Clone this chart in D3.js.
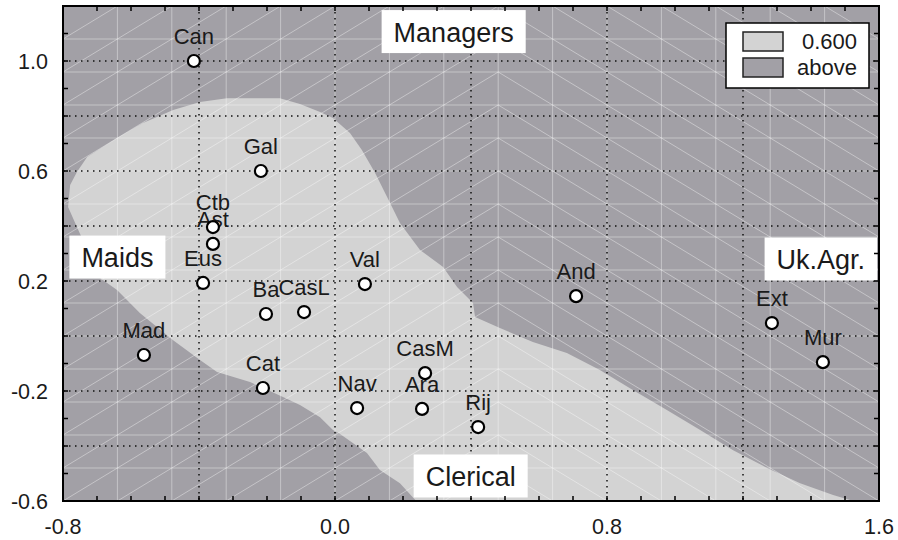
<!DOCTYPE html>
<html><head><meta charset="utf-8">
<script src="https://cdn.jsdelivr.net/npm/d3@7"></script>
<style>body{margin:0;background:#fff}text{font-family:"Liberation Sans",Arial,sans-serif}</style>
</head><body><svg id="c" width="898" height="540"></svg>
<script>
// ---- data ----
const regions = ["Can","Gal","Ctb","Ast","Eus","Ba","CasL","Val","And","Ext","Mur","Mad","Cat","CasM","Nav","Ara","Rij"];
const dim1 = [-0.415,-0.218,-0.359,-0.359,-0.388,-0.203,-0.091,0.088,0.709,1.285,1.435,-0.562,-0.212,0.265,0.065,0.256,0.421];
const dim2 = [1.0,0.6,0.396,0.335,0.193,0.080,0.087,0.189,0.145,0.047,-0.095,-0.069,-0.189,-0.135,-0.262,-0.265,-0.331];

// boundary of the 0.600 contour region (data units)
const contourX = [-0.759,-0.729,-0.641,-0.565,-0.476,-0.397,-0.318,-0.162,-0.103,-0.044,-0.006,0.044,0.079,0.118,0.162,0.191,0.250,0.318,0.359,0.406,0.412,0.485,0.582,0.682,0.779,0.876,0.976,1.074,1.171,1.271,1.368,1.465,1.535,0.244,0.191,0.132,0.094,0.015,-0.006,-0.044,-0.103,-0.153,-0.250,-0.347,-0.397,-0.476,-0.574,-0.641,-0.691,-0.759,-0.785,-0.779];
const contourY = [0.596,0.651,0.720,0.775,0.822,0.851,0.865,0.865,0.844,0.815,0.793,0.738,0.676,0.593,0.484,0.411,0.313,0.251,0.178,0.120,0.069,0.029,-0.022,-0.062,-0.124,-0.196,-0.269,-0.342,-0.415,-0.480,-0.535,-0.578,-0.604,-0.607,-0.535,-0.487,-0.425,-0.356,-0.342,-0.295,-0.251,-0.222,-0.167,-0.131,-0.087,-0.015,0.084,0.167,0.211,0.396,0.469,0.549];

const annoText = ["Managers","Maids","Uk.Agr.","Clerical"];
const annoX = [0.349,-0.640,1.429,0.399];
const annoY = [1.107,0.287,0.280,-0.509];

const xTickLabels = ["-0.8","0.0","0.8","1.6"];
const yTickLabels = ["1.0","0.6","0.2","-0.2","-0.6"];
const xGrid = [-0.4,0.0,0.4,0.8,1.2];
const yGrid = [-0.4,-0.2,0.0,0.2,0.4,0.6,0.8,1.0];
const legendLabels = ["0.600","above"];

// ---- styles ----
const DARK = "#a2a0a6", LIGHT = "#d3d3d3";
const legendColors = [LIGHT, DARK];

const svg = d3.select("#c");
const L = 63, R = 879, T = 6, B = 501;
const x = d3.scaleLinear().domain([-0.8,1.6]).range([L,R]);
const y = d3.scaleLinear().domain([-0.6,1.2]).range([B,T]);

svg.append("defs").append("clipPath").attr("id","clip")
  .append("rect").attr("x",L).attr("y",T).attr("width",R-L).attr("height",B-T);

const plot = svg.append("g").attr("clip-path","url(#clip)");
plot.append("rect").attr("x",L).attr("y",T).attr("width",R-L).attr("height",B-T).attr("fill",DARK);

const poly = contourX.map((v,i)=>[x(v), y(contourY[i])]);
plot.append("path").attr("d", d3.line()(poly)+"Z").attr("fill",LIGHT);

// surface wireframe mesh (15 x 15)
const nx = 15, ny = 15, dx = 2.4/nx, dy = 1.8/ny;
const mesh = plot.append("g").attr("stroke","#fff").attr("stroke-opacity",0.38).attr("stroke-width",1).attr("fill","none");
for (let i=1;i<nx;i++) mesh.append("line").attr("x1",x(-0.8+i*dx)).attr("x2",x(-0.8+i*dx)).attr("y1",T).attr("y2",B);
for (let j=1;j<ny;j++) mesh.append("line").attr("y1",y(-0.6+j*dy)).attr("y2",y(-0.6+j*dy)).attr("x1",L).attr("x2",R);
for (let i=0;i<nx;i++) for (let j=0;j<ny;j++){
  const x0=x(-0.8+i*dx), x1=x(-0.8+(i+1)*dx), y0=y(-0.6+j*dy), y1=y(-0.6+(j+1)*dy);
  if (i<8) mesh.append("line").attr("x1",x0).attr("y1",y0).attr("x2",x1).attr("y2",y1);
  else mesh.append("line").attr("x1",x0).attr("y1",y1).attr("x2",x1).attr("y2",y0);
}

// dotted grid
const grid = plot.append("g").attr("stroke","#111").attr("stroke-width",1.5).attr("stroke-dasharray","1.5,4.5");
xGrid.forEach(v=>grid.append("line").attr("x1",x(v)).attr("x2",x(v)).attr("y1",T).attr("y2",B));
yGrid.forEach(v=>grid.append("line").attr("y1",y(v)).attr("y2",y(v)).attr("x1",L).attr("x2",R));

// points & labels
const pts = svg.append("g");
regions.forEach((r,i)=>{
  pts.append("text").attr("x",x(dim1[i])).attr("y",y(dim2[i])-17).attr("text-anchor","middle")
    .attr("font-size",22).attr("fill","#1a1a1a").text(r);
});
regions.forEach((r,i)=>{
  pts.append("circle").attr("cx",x(dim1[i])).attr("cy",y(dim2[i])).attr("r",6)
    .attr("fill","#fff").attr("stroke","#000").attr("stroke-width",2.2);
});

// annotation boxes
annoText.forEach((t,i)=>{
  const cx = x(annoX[i]), cy = y(annoY[i]);
  const g = svg.append("g");
  const rect = g.append("rect").attr("fill","#fff");
  const tx = g.append("text").attr("x",cx).attr("y",cy+10).attr("text-anchor","middle")
    .attr("font-size",27).attr("fill","#1a1a1a").text(t);
  const w = tx.node().getBBox().width + 24;
  rect.attr("x",cx-w/2).attr("y",cy-21.5).attr("width",w).attr("height",43);
});

// frame
svg.append("rect").attr("x",L).attr("y",T).attr("width",R-L).attr("height",B-T)
  .attr("fill","none").attr("stroke","#000").attr("stroke-width",2);

// inward ticks on all four sides
const tk = svg.append("g").attr("stroke","#000").attr("stroke-width",1.5);
const xt = d3.range(0,25).map(k=>-0.8+k*0.1);
const yt = d3.range(0,19).map(k=>-0.6+k*0.1);
xt.forEach(v=>{
  tk.append("line").attr("x1",x(v)).attr("x2",x(v)).attr("y1",B).attr("y2",B-5);
  tk.append("line").attr("x1",x(v)).attr("x2",x(v)).attr("y1",T).attr("y2",T+5);
});
yt.forEach(v=>{
  tk.append("line").attr("y1",y(v)).attr("y2",y(v)).attr("x1",L).attr("x2",L+5);
  tk.append("line").attr("y1",y(v)).attr("y2",y(v)).attr("x1",R).attr("x2",R-5);
});

// axis labels
xTickLabels.forEach(s=>svg.append("text").attr("x",x(+s)).attr("y",534).attr("text-anchor","middle")
  .attr("font-size",21.5).attr("fill","#1a1a1a").text(s));
yTickLabels.forEach(s=>svg.append("text").attr("x",48).attr("y",y(+s)+7.5).attr("text-anchor","end")
  .attr("font-size",21.5).attr("fill","#1a1a1a").text(s));

// legend
const lg = svg.append("g");
lg.append("rect").attr("x",726).attr("y",23).attr("width",143).attr("height",65)
  .attr("fill","#fff").attr("stroke","#000").attr("stroke-width",1.5);
legendLabels.forEach((t,i)=>{
  lg.append("rect").attr("x",743).attr("y",32+i*26).attr("width",40).attr("height",19)
    .attr("fill",legendColors[i]).attr("stroke","#222").attr("stroke-width",1.5);
  lg.append("text").attr("x",857).attr("y",49+i*26).attr("text-anchor","end")
    .attr("font-size",22).attr("fill","#1a1a1a").text(t);
});
</script></body></html>
